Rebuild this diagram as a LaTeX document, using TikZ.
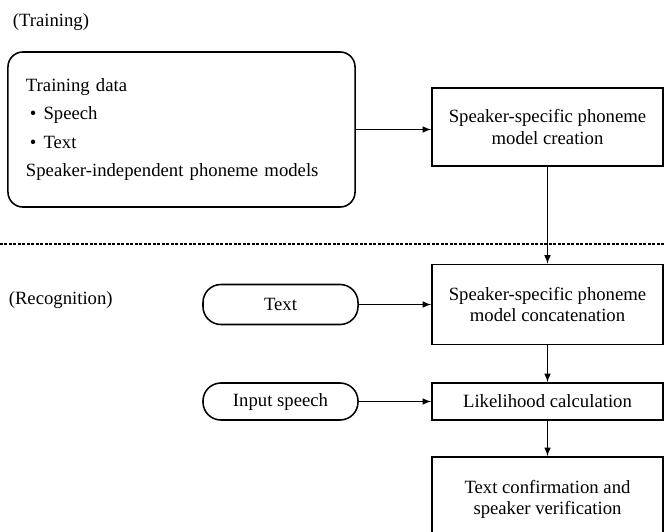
\documentclass[tikz,border=0pt]{standalone}
\usepackage{fontspec}
\setmainfont{Liberation Serif}
\usetikzlibrary{calc}
\newcommand{\puce}{\hspace*{4\unitpx}\textbullet\hspace{7\unitpx}}
\newlength{\unitpx}
\setlength{\unitpx}{0.025cm}

\begin{document}
\begin{tikzpicture}[x=0.025cm, y=-0.025cm, line width=1.1pt,
    every node/.style={font=\fontsize{13.3}{15}\selectfont},
    bloc/.style={draw, minimum width=5.775cm, align=center, inner sep=0pt},
    pilule/.style={draw, rounded corners=0.45cm, minimum width=3.875cm, inner sep=0pt}]
                \useasboundingbox (0,0) rectangle (664,532);
                \clip (0,0) rectangle (664,532);

                % apprentissage
                \node[anchor=west, inner sep=0pt] (titreA) at (12,22) {(Training)};
                \node[draw, rounded corners=0.375cm, minimum width=8.675cm, minimum height=3.875cm,
                      text width=7.775cm, align=left, inner sep=0pt,
                      font=\fontsize{13.3}{20.3}\selectfont] (donnees) at (181.5,129.5)
                      {Training data\\ \puce Speech\\ \puce Text\\ Speaker-independent phoneme models};
                \node[bloc, minimum height=1.95cm] (creation) at (547.5,127)
                      {Speaker-specific phoneme\\ model creation};

                \draw[-latex] (donnees.east) -- (donnees.east -| creation.west);

                % separation
                \coordinate (sepG) at (0,244);
                \coordinate (sepD) at (664,244);
                \draw[line width=0.8pt, dash pattern=on 2pt off 1.2pt] (sepG) -- (sepD);

                % reconnaissance
                \node[anchor=west, inner sep=0pt] (titreR) at (8,300) {(Recognition)};
                \node[pilule, minimum height=1cm] (texte) at (280.5,304.5) {Text};
                \node[pilule, minimum height=0.925cm] (parole) at (280.5,401.5) {Input speech};
                \node[bloc, minimum height=2cm] (concat) at (547.5,304.5)
                      {Speaker-specific phoneme\\ model concatenation};
                \node[bloc, minimum height=0.925cm] (vraisemblance) at (547.5,401.5)
                      {Likelihood calculation};
                \node[bloc, minimum height=2.1cm] (verif) at (547.5,499)
                      {Text confirmation and\\ speaker verification};

                \draw[-latex] (creation) -- (concat);
                \draw[-latex] (texte) -- (concat);
                \draw[-latex] (concat) -- (vraisemblance);
                \draw[-latex] (parole) -- (vraisemblance);
                \draw[-latex] (vraisemblance) -- (verif);
            \end{tikzpicture}
\end{document}
